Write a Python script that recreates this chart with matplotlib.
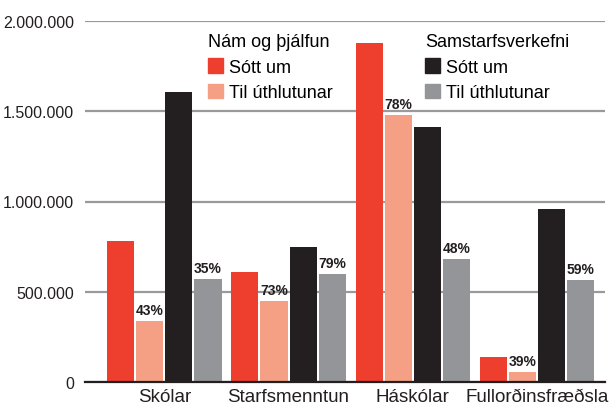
import numpy as np
import matplotlib
matplotlib.use("Agg")
import matplotlib.pyplot as plt
from matplotlib.patches import Patch

plt.rcParams['font.family'] = ['Liberation Sans', 'DejaVu Sans']

# --- data (ISK thousands)
categories = ['Skólar', 'Starfsmenntun', 'Háskólar', 'Fullorðinsfræðsla']
nam_sott = [782000, 610000, 1877000, 137000]
nam_uthl = [338000, 449000, 1477000, 54000]
sam_sott = [1608000, 749000, 1415000, 960000]
sam_uthl = [569000, 599000, 682000, 563000]
nam_pct = ['43%', '73%', '78%', '39%']
sam_pct = ['35%', '79%', '48%', '59%']
yticks = [0, 500000, 1000000, 1500000, 2000000]
ytick_labels = ['0', '500.000', '1.000.000', '1.500.000', '2.000.000']

c_red = '#EE3E2E'
c_salmon = '#F5A085'
c_black = '#231F20'
c_grey = '#939598'

fig = plt.figure(figsize=(6.13, 4.06), dpi=100)
ax = fig.add_axes((85/613, 23/406, 520/613, 361/406))

x = np.arange(len(categories))
step = 0.234
w = 0.218
series = [(nam_sott, c_red), (nam_uthl, c_salmon), (sam_sott, c_black), (sam_uthl, c_grey)]
for i, (vals, col) in enumerate(series):
    ax.bar(x + (i - 1.5) * step, vals, width=w, color=col, zorder=3)

# --- percentage labels on the "til úthlutunar" bars
for i in range(len(categories)):
    ax.text(x[i] - 0.5 * step, nam_uthl[i] + 22000, nam_pct[i], ha='center', va='bottom',
            fontsize=10, fontweight='bold', color='#231F20')
    ax.text(x[i] + 1.5 * step, sam_uthl[i] + 22000, sam_pct[i], ha='center', va='bottom',
            fontsize=10, fontweight='bold', color='#231F20')

ax.set_ylim(0, 2000000)
ax.set_xlim(-0.64, 3.55)
ax.set_yticks(yticks)
ax.set_yticklabels(ytick_labels, fontsize=11.5, color='#231F20')
ax.set_xticks(x)
ax.set_xticklabels(categories, fontsize=13.5, color='#231F20')
ax.tick_params(axis='both', length=0)
ax.tick_params(axis='y', pad=8)
ax.tick_params(axis='x', pad=4)
ax.yaxis.grid(True, color='#9a9a9a', lw=1.6, zorder=0)
for s in ['left', 'right', 'top']:
    ax.spines[s].set_visible(False)
ax.spines['bottom'].set_color('#231F20')
ax.spines['bottom'].set_linewidth(1.6)
ax.spines['bottom'].set_zorder(4)

# --- two legends, anchored in figure pixels from the top
def make_legend(title, c1, c2, xpix, ypix):
    h = [Patch(color=c1), Patch(color=c2)]
    leg = ax.legend(h, ['Sótt um', 'Til úthlutunar'], title=title, loc='upper left',
                    bbox_to_anchor=(xpix/613, 1 - ypix/406), bbox_transform=fig.transFigure,
                    frameon=False, fontsize=13, title_fontsize=13, handlelength=0.85,
                    handleheight=0.85, handletextpad=0.3, labelspacing=0.45,
                    borderpad=0, borderaxespad=0, alignment='left')
    return leg

leg1 = make_legend('Nám og þjálfun', c_red, c_salmon, 208, 34)
ax.add_artist(leg1)
leg2 = make_legend('Samstarfsverkefni', c_black, c_grey, 425, 34)

fig.savefig('out.png', dpi=100)
